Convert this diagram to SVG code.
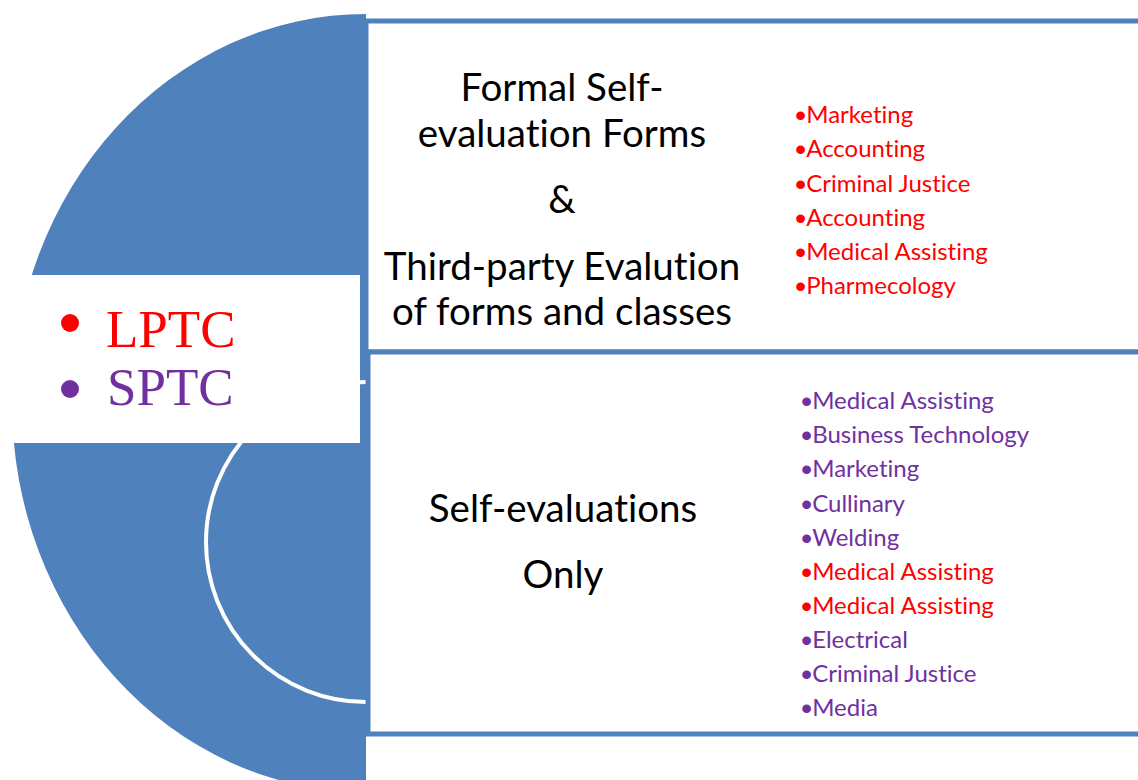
<svg xmlns="http://www.w3.org/2000/svg" width="1138" height="780" viewBox="0 0 1138 780">
<style>
.blue{fill:#4F81BD}
.box{fill:#fff;stroke:#4F81BD;stroke-width:5}
text{font-variant-ligatures:none;font-feature-settings:"liga" 0}
.main{font-family:Lato,"Liberation Sans",sans-serif;font-size:38.5px;fill:#000;text-anchor:middle}
.li{font-family:Lato,"Liberation Sans",sans-serif;font-size:24px}
.b{font-family:"Liberation Sans",sans-serif;font-size:32px}
.r{fill:#FF0000}
.p{fill:#7030A0}
.ser{font-family:"Liberation Serif",serif;font-size:53px}
</style>
<rect width="1138" height="780" fill="#fff"/>
<g id="circle">
<path class="blue" d="M366 14 A354 389 0 0 0 366 792 Z"/>
<path d="M366 382 A160 160 0 0 0 366 702" fill="none" stroke="#fff" stroke-width="4"/>
</g>
<g id="legend">
<rect x="0" y="275" width="360" height="168" fill="#fff"/>
<circle cx="70" cy="323" r="9" fill="#FF0000"/>
<text class="ser r" x="106" y="347">LPTC</text>
<circle cx="70" cy="389" r="9" fill="#7030A0"/>
<text class="ser p" x="107" y="405">SPTC</text>
</g>
<g id="top-box">
<rect class="box" x="366" y="21" width="800" height="331"/>
<text class="main" x="562" y="101">Formal Self-</text>
<text class="main" x="562" y="147">evaluation Forms</text>
<text class="main" x="562" y="213">&amp;</text>
<text class="main" x="562" y="280">Third-party Evalution</text>
<text class="main" x="562" y="325">of forms and classes</text>
<g class="li r">
<text x="795" y="123"><tspan class="b" dy="3">•</tspan><tspan dy="-3">Marketing</tspan></text>
<text x="795" y="157"><tspan class="b" dy="3">•</tspan><tspan dy="-3">Accounting</tspan></text>
<text x="795" y="192"><tspan class="b" dy="3">•</tspan><tspan dy="-3">Criminal Justice</tspan></text>
<text x="795" y="226"><tspan class="b" dy="3">•</tspan><tspan dy="-3">Accounting</tspan></text>
<text x="795" y="260"><tspan class="b" dy="3">•</tspan><tspan dy="-3">Medical Assisting</tspan></text>
<text x="795" y="294"><tspan class="b" dy="3">•</tspan><tspan dy="-3">Pharmecology</tspan></text>
</g>
</g>
<g id="bottom-box">
<rect class="box" x="368" y="352" width="800" height="382"/>
<text class="main" x="563" y="522">Self-evaluations</text>
<text class="main" x="563" y="588">Only</text>
<g class="li">
<text class="p" x="801" y="409"><tspan class="b" dy="3">•</tspan><tspan dy="-3">Medical Assisting</tspan></text>
<text class="p" x="801" y="443"><tspan class="b" dy="3">•</tspan><tspan dy="-3">Business Technology</tspan></text>
<text class="p" x="801" y="477"><tspan class="b" dy="3">•</tspan><tspan dy="-3">Marketing</tspan></text>
<text class="p" x="801" y="512"><tspan class="b" dy="3">•</tspan><tspan dy="-3">Cullinary</tspan></text>
<text class="p" x="801" y="546"><tspan class="b" dy="3">•</tspan><tspan dy="-3">Welding</tspan></text>
<text class="r" x="801" y="580"><tspan class="b" dy="3">•</tspan><tspan dy="-3">Medical Assisting</tspan></text>
<text class="r" x="801" y="614"><tspan class="b" dy="3">•</tspan><tspan dy="-3">Medical Assisting</tspan></text>
<text class="p" x="801" y="648"><tspan class="b" dy="3">•</tspan><tspan dy="-3">Electrical</tspan></text>
<text class="p" x="801" y="682"><tspan class="b" dy="3">•</tspan><tspan dy="-3">Criminal Justice</tspan></text>
<text class="p" x="801" y="716"><tspan class="b" dy="3">•</tspan><tspan dy="-3">Media</tspan></text>
</g>
</g>
<g id="connectors"/>
</svg>
